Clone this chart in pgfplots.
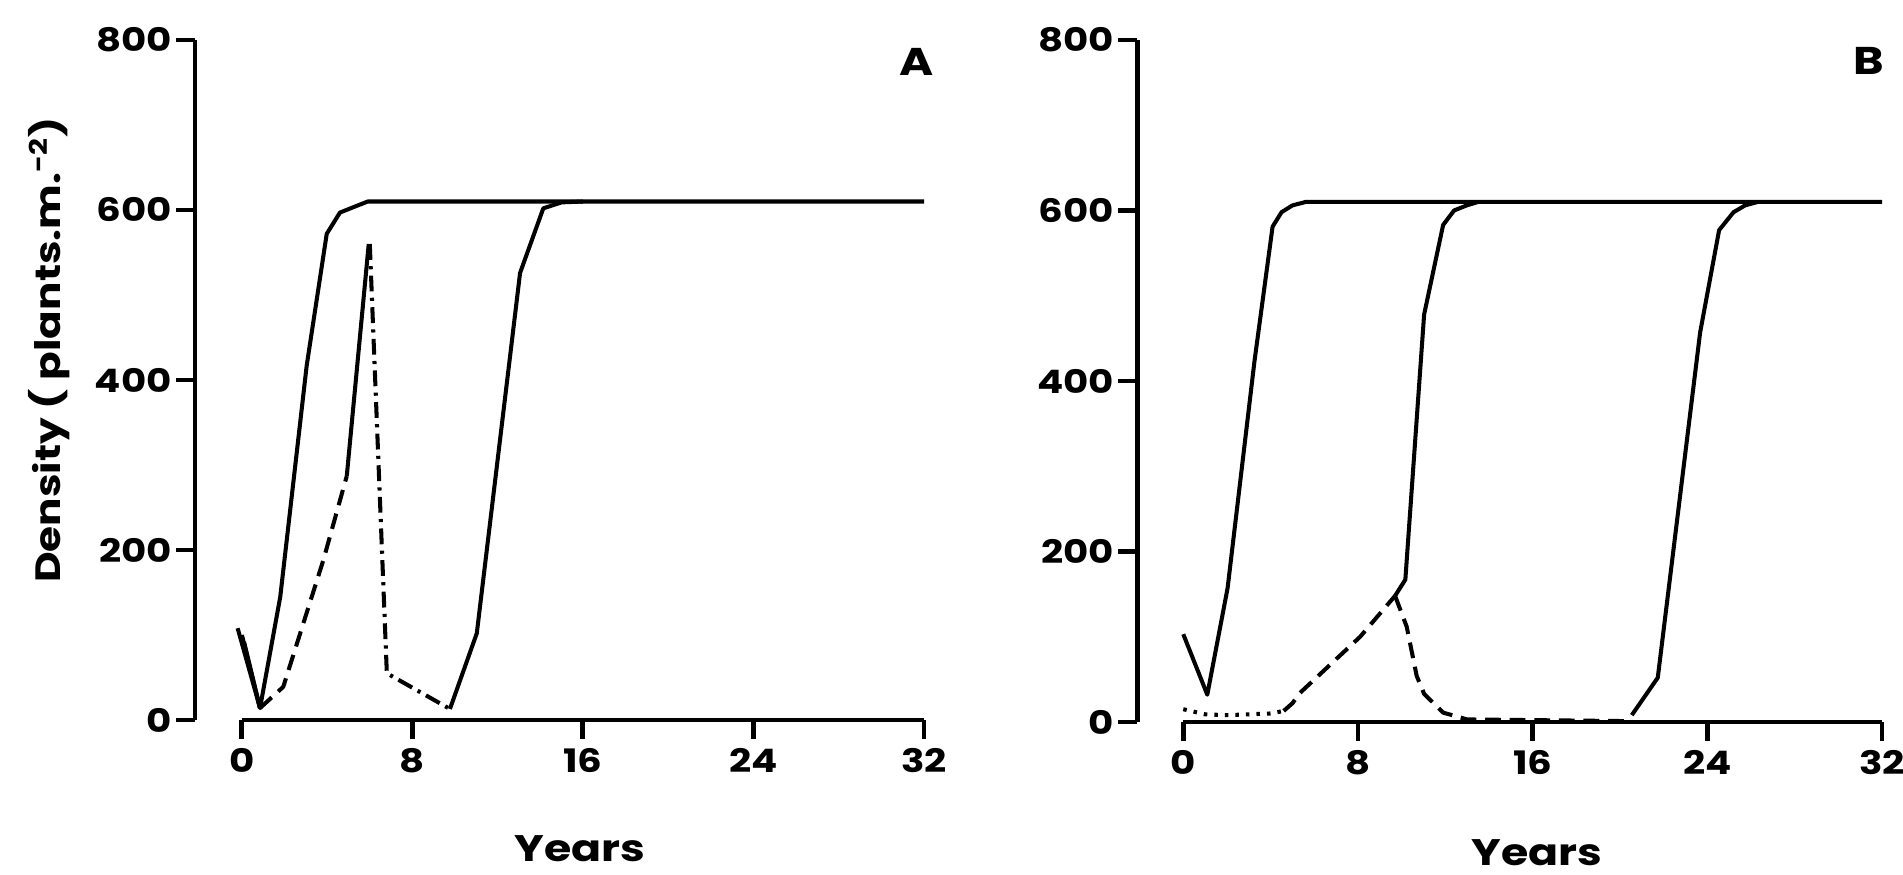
\documentclass[border=0pt]{standalone}
\usepackage{fontspec}
\setmainfont{Poppins}[FakeStretch=1.2]
\usepackage{pgfplots}
\pgfplotsset{compat=1.18}
\pgfplotsset{
  myaxis/.style={
    scale only axis,
    anchor=south west,
    axis lines=left,
    axis line style={-, line width=1.4pt},
    x axis line style={draw=none},
    ymin=0, ymax=800, xmax=32,
    xtick={0,8,16,24,32}, ytick={0,200,400,600,800},
    tick align=outside,
    major tick length=1.9mm,
    tick style={black, line width=1.4pt},
    tick label style={font=\fontsize{9.2}{10}\selectfont\bfseries},
    yticklabel style={inner xsep=1pt},
    xticklabel style={inner ysep=2.5pt},
    /pgf/number format/assume math mode=true,
    clip=false,
  },
  curve/.style={black, line width=1.15pt, line join=round},
  dashcurve/.style={black, line width=1.15pt, dash pattern=on 4.5pt off 2.5pt},
  dashdot/.style={black, line width=1.15pt, dash pattern=on 4.5pt off 1.8pt on 0.9pt off 1.8pt},
  dotcurve/.style={black, line width=1.15pt, dash pattern=on 1pt off 2pt},
}
\begin{document}
\begin{tikzpicture}
\path[use as bounding box] (0,0) rectangle (190.3mm,87.5mm);
% ---------------- Panel A ----------------
\begin{axis}[myaxis, at={(19.5mm,15.5mm)}, width=72.9mm, height=68mm, xmin=-2.2]
\draw[line width=1.4pt] (axis cs:0,0) -- (axis cs:32,0);
% overlapping initial declines (thick wedge)
\addplot[curve] coordinates {(-0.2,108) (0.85,14)};
\addplot[curve] coordinates {(0.1,92) (0.85,14)};
% first solid curve
\addplot[curve] coordinates {(0,100) (0.85,14) (1.8,145) (3.04,417) (3.98,572) (4.6,597) (5.9,610) (32,610)};
% dashed rise
\addplot[dashcurve] coordinates {(0.85,14) (1.94,39) (3.82,188) (4.92,287)};
% solid to peak
\addplot[curve] coordinates {(4.92,287) (5.95,560)};
% dash-dot decline
\addplot[dashdot] coordinates {(6.0,560) (6.8,55) (9.76,13)};
% third solid curve
\addplot[curve] coordinates {(9.76,13) (11.02,102) (13.05,526) (14.14,602) (15,609) (16,610)};
\end{axis}
% ---------------- Panel B ----------------
\begin{axis}[myaxis, at={(113.74mm,15.3mm)}, width=74.46mm, height=68.2mm, xmin=-2.1]
\draw[line width=1.4pt] (axis cs:0,0) -- (axis cs:32,0);
% first solid curve
\addplot[curve] coordinates {(0,103) (1.1,32) (2.03,157) (3.26,423) (4.09,581) (4.5,598) (5,606) (5.6,610) (32,610)};
% dotted start
\addplot[dotcurve] coordinates {(0,15) (1,9) (2,8) (3,9) (4,10) (4.6,13)};
% dashed rise
\addplot[dashcurve] coordinates {(4.6,13) (5.0,22) (5.34,34) (8.1,100) (9.7,148)};
% dashed decline
\addplot[dashcurve] coordinates {(9.7,148) (10.23,112) (10.69,54) (11.03,33) (11.9,11) (13,3) (20.5,1)};
% second solid curve
\addplot[curve] coordinates {(9.7,148) (10.17,167) (11.03,478) (11.9,583) (12.4,600) (12.98,606) (13.5,610)};
% third solid curve
\addplot[curve] coordinates {(20.54,8) (21.73,52) (23.67,457) (24.54,577) (25.2,598) (25.73,606) (26.3,610)};
\end{axis}
% ---------------- Labels ----------------
\node[font=\fontsize{10.5}{12}\selectfont\bfseries] at (58mm,2.6mm) {Years};
\node[font=\fontsize{10.5}{12}\selectfont\bfseries] at (153.7mm,2.2mm) {Years};
\node[rotate=90, font=\fontsize{10}{12}\selectfont\bfseries] at (4.9mm,52.5mm) {Density ( plants.m.\textsuperscript{-2})};
\node[font=\fontsize{11}{13}\selectfont\bfseries] at (91.7mm,81.3mm) {A};
\node[font=\fontsize{11}{13}\selectfont\bfseries] at (186.9mm,81.4mm) {B};
\end{tikzpicture}
\end{document}
